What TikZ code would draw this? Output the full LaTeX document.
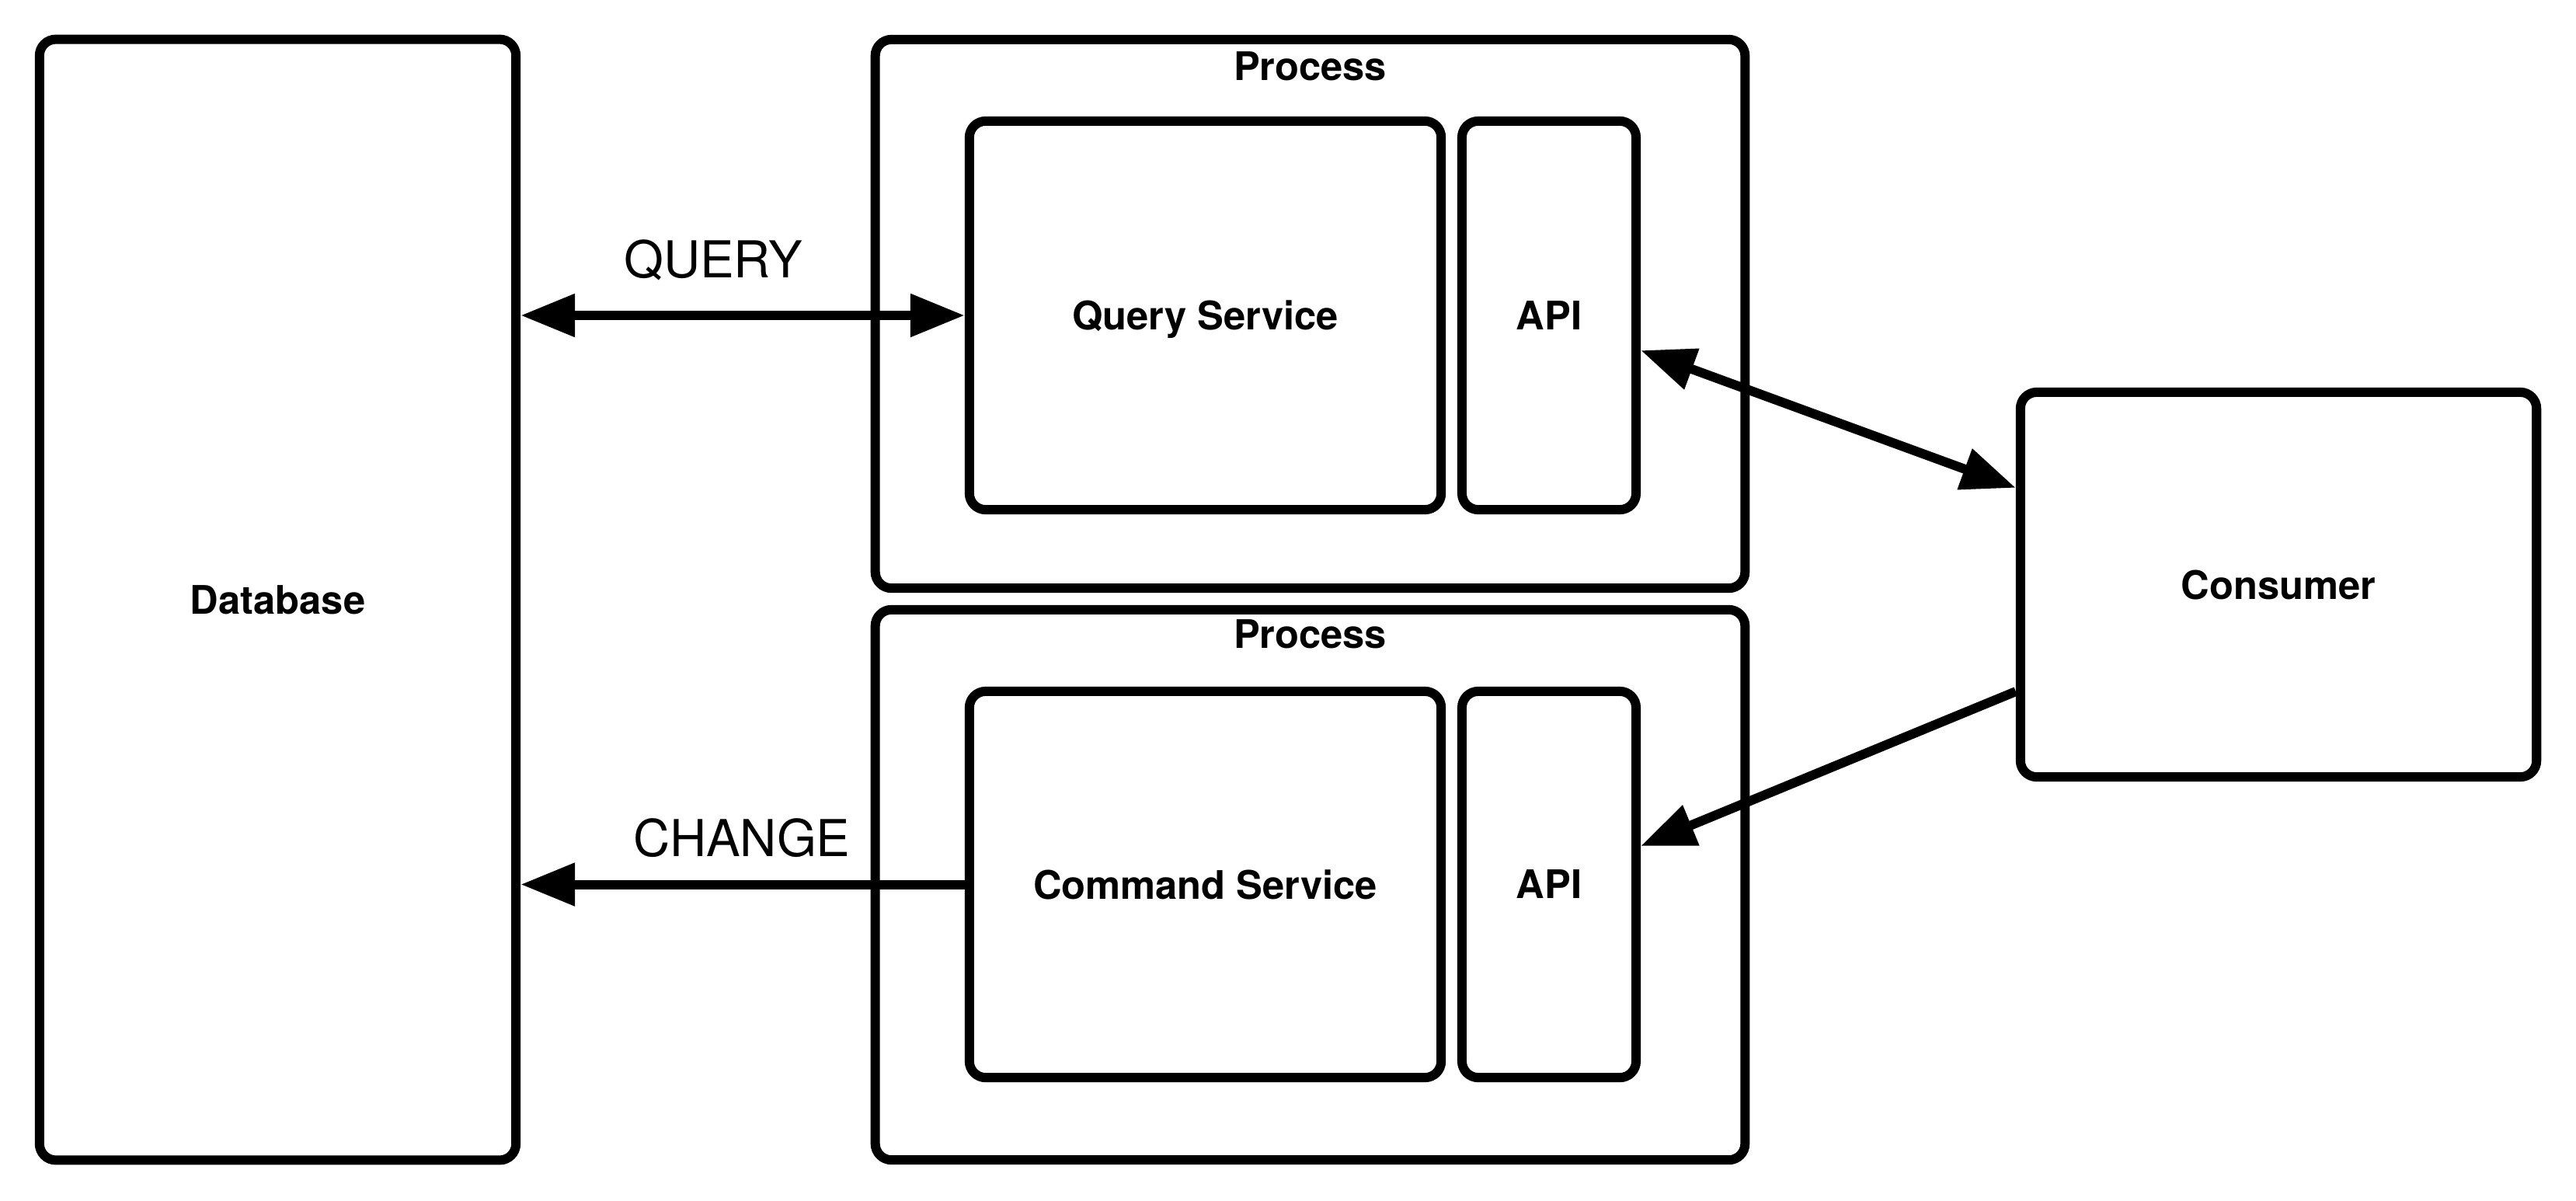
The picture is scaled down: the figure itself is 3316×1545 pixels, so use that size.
\documentclass[tikz,border=0pt]{standalone}
\usepackage{fontspec}
\setmainfont{TeX Gyre Heros}
\usetikzlibrary{arrows.meta,calc}
\begin{document}
\begin{tikzpicture}[x=0.01cm, y=-0.01cm,
  >={Triangle[length=7mm,width=5.3mm]},
  box/.style={draw, line width=0.12cm, rounded corners=0.21cm, font=\bfseries\fontsize{14.4}{16}\selectfont, text depth=0pt, inner sep=0pt},
  ptitle/.style={font=\bfseries\fontsize{14.4}{16}\selectfont, inner sep=0pt},
  lbl/.style={font=\fontsize{18.6}{20}\selectfont, inner sep=0pt, anchor=base},
  conn/.style={line width=0.12cm},
]
\path[use as bounding box] (0,0) rectangle (3316,1545);
\fill[white] (0,0) rectangle (3316,1545);

\node[box, minimum width=6.13cm, minimum height=14.42cm] (db) at (357.5,772) {Database};

\node[box, minimum width=11.19cm, minimum height=7.06cm] (p1) at (1686.5,404) {};
\node[ptitle] (p1t) at (1686.5,85) {Process};
\node[box, minimum width=6.07cm, minimum height=5.00cm] (qs) at (1551.5,406) {Query Service};
\node[box, minimum width=2.24cm, minimum height=5.00cm] (api1) at (1994,406) {API};

\node[box, minimum width=11.19cm, minimum height=7.08cm] (p2) at (1686.5,1139) {};
\node[ptitle] (p2t) at (1686.5,816) {Process};
\node[box, minimum width=6.07cm, minimum height=4.97cm] (cs) at (1551.5,1138.5) {Command Service};
\node[box, minimum width=2.24cm, minimum height=4.97cm] (api2) at (1994,1138.5) {API};

\node[box, minimum width=6.64cm, minimum height=4.95cm] (cons) at (2933,752.5) {Consumer};

\draw[conn, <->] (qs.west -| db.east) -- (qs.west);
\node[lbl] (ql) at (918,357) {QUERY};

\draw[conn, ->] (cs.west) -- (cs.west -| db.east);
\node[lbl] (cl) at (955,1102) {CHANGE};

\draw[conn, <->] ([yshift=-0.45cm]api1.east) -- ([yshift=1.245cm]cons.west);
\draw[conn, ->] ([yshift=-1.375cm]cons.west) -- ([yshift=0.495cm]api2.east);
\end{tikzpicture}
\end{document}
